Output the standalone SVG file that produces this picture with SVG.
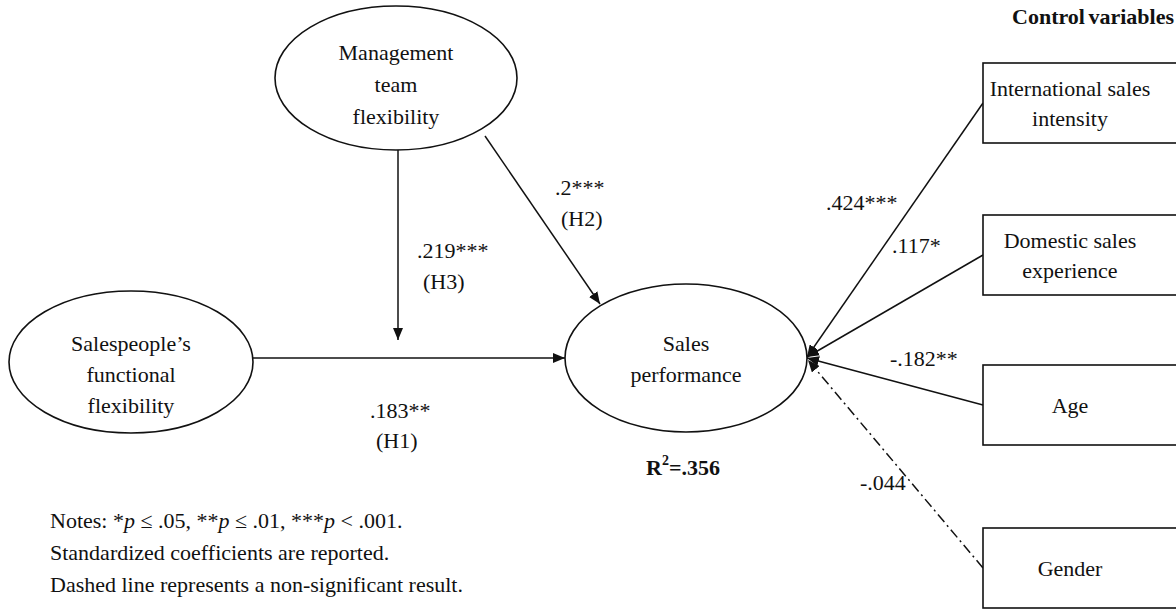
<svg xmlns="http://www.w3.org/2000/svg" width="1176" height="610" viewBox="0 0 1176 610">
<style>
text{font-family:"Liberation Serif","Times New Roman",serif;font-size:22px;fill:#111}
.c{text-anchor:middle}
.b{font-weight:bold}
.shape{fill:#fff;stroke:#111;stroke-width:1.6}
.ln{stroke:#111;stroke-width:1.5;fill:none}
.dd{stroke-dasharray:10,4,2,4}
</style>
<defs>
<marker id="ah" viewBox="0 0 12 10" refX="12" refY="5" markerWidth="12" markerHeight="10" markerUnits="userSpaceOnUse" orient="auto">
<path d="M0,0 L12,5 L0,10 Z" fill="#111"/>
</marker>
</defs>
<g id="connectors">
<line class="ln" x1="253" y1="358" x2="565" y2="358" marker-end="url(#ah)"/>
<line class="ln" x1="398" y1="150" x2="398" y2="340" marker-end="url(#ah)"/>
<line class="ln" x1="485" y1="136" x2="600" y2="304" marker-end="url(#ah)"/>
<line class="ln" x1="983" y1="103" x2="807" y2="357" marker-end="url(#ah)"/>
<line class="ln" x1="983" y1="255" x2="807" y2="357" marker-end="url(#ah)"/>
<line class="ln" x1="983" y1="405" x2="807" y2="358" marker-end="url(#ah)"/>
<line class="ln dd" x1="983" y1="568" x2="808" y2="360" marker-end="url(#ah)"/>
</g>
<g id="node-mgmt">
<ellipse class="shape" cx="396" cy="78" rx="121" ry="72"/>
<text class="c" x="396" y="60">Management</text>
<text class="c" x="396" y="92">team</text>
<text class="c" x="396" y="124">flexibility</text>
</g>
<g id="node-sales-people">
<ellipse class="shape" cx="131" cy="362" rx="122" ry="71"/>
<text class="c" x="131" y="351">Salespeople’s</text>
<text class="c" x="131" y="382">functional</text>
<text class="c" x="131" y="413">flexibility</text>
</g>
<g id="node-sales-perf">
<ellipse class="shape" cx="686" cy="358" rx="121" ry="74"/>
<text class="c" x="686" y="351">Sales</text>
<text class="c" x="686" y="382">performance</text>
</g>
<g id="node-intl">
<rect class="shape" x="983" y="63" width="200" height="80"/>
<text class="c" x="1070" y="96">International sales</text>
<text class="c" x="1070" y="126">intensity</text>
</g>
<g id="node-domestic">
<rect class="shape" x="983" y="215" width="200" height="80"/>
<text class="c" x="1070" y="248">Domestic sales</text>
<text class="c" x="1070" y="278">experience</text>
</g>
<g id="node-age">
<rect class="shape" x="983" y="365" width="200" height="80"/>
<text class="c" x="1070" y="413">Age</text>
</g>
<g id="node-gender">
<rect class="shape" x="983" y="528" width="200" height="80"/>
<text class="c" x="1070" y="576">Gender</text>
</g>
<g id="labels">
<text class="b" x="1174" y="24" text-anchor="end" font-size="20" word-spacing="-2">Control variables</text>
<text x="555" y="195">.2***</text>
<text x="561" y="226">(H2)</text>
<text x="417" y="258">.219***</text>
<text x="423" y="289">(H3)</text>
<text x="370" y="418">.183**</text>
<text x="376" y="448">(H1)</text>
<text class="b" x="646" y="475">R<tspan font-size="14" dy="-10">2</tspan><tspan dy="10">=.356</tspan></text>
<text x="826" y="210">.424***</text>
<text x="892" y="253">.117*</text>
<text x="890" y="366">-.182**</text>
<text x="860" y="490">-.044</text>
<text x="50" y="528">Notes: *<tspan font-style="italic">p</tspan> ≤ .05, **<tspan font-style="italic">p</tspan> ≤ .01, ***<tspan font-style="italic">p</tspan> &lt; .001.</text>
<text x="50" y="560">Standardized coefficients are reported.</text>
<text x="50" y="592">Dashed line represents a non-significant result.</text>
</g>
</svg>
